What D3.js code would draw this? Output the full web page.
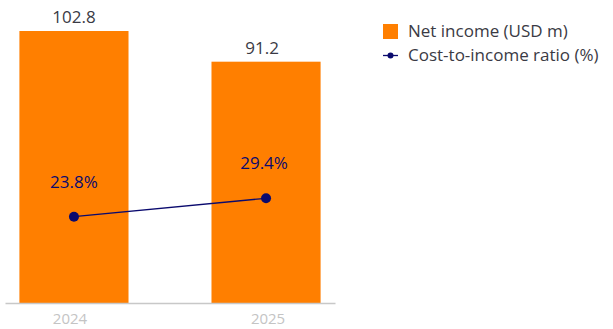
<!DOCTYPE html>
<html><head><meta charset="utf-8">
<script src="https://cdn.jsdelivr.net/npm/d3@7"></script>
<style>body{margin:0;background:#fff;}svg{display:block;font-family:"Open Sans",sans-serif;}</style>
</head><body>
<svg id="c" width="613" height="329"></svg>
<script>
const years = ["2024", "2025"];
const netIncome = [102.8, 91.2];
const costIncomeRatio = [23.8, 29.4];
const netIncomeLabels = ["102.8", "91.2"];
const ratioLabels = ["23.8%", "29.4%"];
const seriesNames = ["Net income (USD m)", "Cost-to-income ratio (%)"];

const svg = d3.select("#c");
const orange = "#FF7F00", navy = "#0A0A6E";
const baseY = 303;

const x = d3.scaleBand().domain(years).range([5, 335]).paddingInner(0.432).paddingOuter(0.075);
const y = d3.scaleLinear().domain([0, 102.8]).range([baseY, 31]);
const y2 = d3.scaleLinear().domain([0, 100]).range([295, -34]);

svg.selectAll("rect.bar").data(netIncome).join("rect").attr("class","bar")
  .attr("x",(d,i)=>x(years[i])).attr("width",x.bandwidth())
  .attr("y",d=>y(d)).attr("height",d=>baseY-y(d)).attr("fill",orange);

svg.selectAll("text.bl").data(netIncome).join("text").attr("class","bl")
  .attr("x",(d,i)=>x(years[i])+x.bandwidth()/2 + (i===1?-4:0)).attr("y",d=>y(d)-8)
  .attr("text-anchor","middle").attr("font-size",17).attr("fill","#3a3a44")
  .text((d,i)=>netIncomeLabels[i]);

const xa = svg.append("g").attr("transform",`translate(0,${baseY})`)
  .call(d3.axisBottom(x).tickSize(0).tickPadding(10));
xa.select(".domain").attr("stroke","#c8c8c8").attr("stroke-width",1.3);
xa.selectAll("text").attr("font-size",15).attr("fill","#c4c4c4").attr("font-family","Open Sans, sans-serif")
  .attr("dy","0.71em").attr("dx",(d,i)=>i===0?-4:2);

const cx = (d,i)=>x(years[i])+x.bandwidth()/2;
const line = d3.line().x((d,i)=>cx(d,i)).y(d=>y2(d));
svg.append("path").datum(costIncomeRatio).attr("d",line).attr("fill","none")
  .attr("stroke",navy).attr("stroke-width",1.3);
svg.selectAll("circle.pt").data(costIncomeRatio).join("circle").attr("class","pt")
  .attr("cx",cx).attr("cy",d=>y2(d)).attr("r",5).attr("fill",navy);
svg.selectAll("text.pl").data(costIncomeRatio).join("text").attr("class","pl")
  .attr("x",(d,i)=>cx(d,i)+(i===1?-2:0)).attr("y",d=>y2(d)-29)
  .attr("text-anchor","middle").attr("font-size",17).attr("fill",navy)
  .text((d,i)=>ratioLabels[i]);

// legend
const lg = svg.append("g");
lg.append("rect").attr("x",383).attr("y",24).attr("width",15).attr("height",15).attr("fill",orange);
lg.append("text").attr("x",408).attr("y",37).attr("font-size",17).attr("fill","#3a3a44").text(seriesNames[0]);
lg.append("line").attr("x1",383).attr("x2",398).attr("y1",55.5).attr("y2",55.5).attr("stroke",navy).attr("stroke-width",1.3);
lg.append("circle").attr("cx",390.5).attr("cy",55.5).attr("r",3).attr("fill",navy);
lg.append("text").attr("x",408).attr("y",60.5).attr("font-size",17).attr("fill","#3a3a44").text(seriesNames[1]);
</script>
</body></html>
